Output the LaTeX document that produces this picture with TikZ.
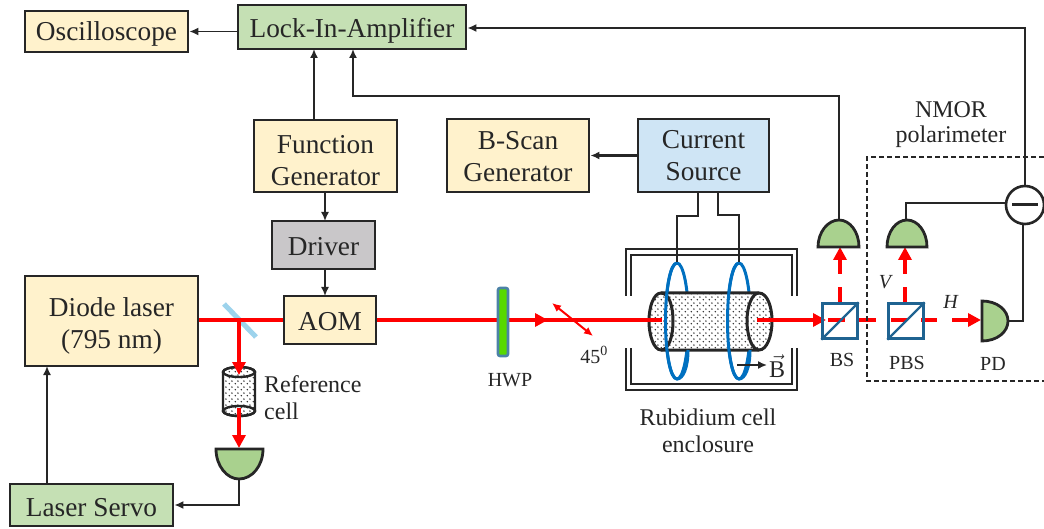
\documentclass[tikz,border=0pt]{standalone}
\usepackage{fontspec}
\setmainfont{Liberation Serif}
\usepackage{amsmath}
\usetikzlibrary{positioning}
\usetikzlibrary{arrows.meta}
\usetikzlibrary{patterns}
\definecolor{cream}{HTML}{FFF2CC}
\definecolor{palegreen}{HTML}{C5E0B4}
\definecolor{detgreen}{HTML}{A9D18E}
\definecolor{driverg}{HTML}{C9C7C9}
\definecolor{paleblue}{HTML}{CFE5F5}
\definecolor{cubeblue}{HTML}{1F6391}
\definecolor{coilblue}{HTML}{0070C0}
\definecolor{mirrorb}{HTML}{9DD3EC}
\definecolor{ink}{HTML}{262626}
\newcommand{\riser}[1]{\rule{0pt}{#1pt}}
\pgfdeclarepatternformonly{celldots}{\pgfqpoint{0pt}{0pt}}{\pgfqpoint{6pt}{6pt}}{\pgfqpoint{6pt}{6pt}}{
	\pgfpathcircle{\pgfqpoint{1.5pt}{1.5pt}}{0.9pt}
	\pgfpathcircle{\pgfqpoint{4.5pt}{4.5pt}}{0.9pt}
	\pgfusepath{fill}
}
\tikzset{
	box/.style={draw=ink,line width=2.8pt,align=center,inner sep=0pt,text=ink,font=\fontsize{27.3}{32}\selectfont},
	conn/.style={draw=ink,line width=1.6pt,-{Latex[length=9pt,width=8pt]}},
	wire/.style={draw=ink,line width=1.6pt},
	lead/.style={draw=ink,line width=2.6pt},
	beam/.style={draw=red,line width=4pt},
	beamarrow/.style={draw=red,line width=4pt,-{Triangle[length=13pt,width=13pt]}},
	det/.style={draw=ink,line width=2.8pt,fill=detgreen},
	cube/.style={draw=cubeblue,line width=2.4pt},
	coil/.style={draw=coilblue,line width=3pt},
	wall/.style={draw=ink,line width=2.2pt},
	label/.style={inner sep=0pt,text=ink,align=center,font=\fontsize{20}{27}\selectfont},
	biglabel/.style={inner sep=0pt,text=ink,align=center,font=\fontsize{24}{27}\selectfont},
}
\begin{document}
\begin{tikzpicture}[x=1pt,y=-1pt]
		\useasboundingbox (0,0) rectangle (1044,529);
		% boxes
		\node (osc) at (106.5,31.5) [box,fill=cream,minimum width=163pt,minimum height=41pt] {\riser{23}Oscilloscope};
		\node (lockin) at (352,27) [box,fill=palegreen,minimum width=228pt,minimum height=44pt] {\riser{27}Lock-In-Amplifier};
		\node (func) at (325.5,156) [box,fill=cream,minimum width=143pt,minimum height=72pt] {\riser{27}Function\\Generator};
		\node (driver) at (323.5,245) [box,fill=driverg,minimum width=103pt,minimum height=48pt] {\riser{21}Driver};
		\node (diode) at (111.5,321) [box,fill=cream,minimum width=173pt,minimum height=90pt] {\riser{29}Diode laser\\(795 nm)};
		\node (aom) at (330,320) [box,fill=cream,minimum width=92pt,minimum height=48pt] {\riser{22}AOM};
		\node (servo) at (91.5,505) [box,fill=palegreen,minimum width=163pt,minimum height=42pt] {\riser{23}Laser Servo};
		\node (bscan) at (518,155.5) [box,fill=cream,minimum width=142pt,minimum height=73pt] {\riser{21}B-Scan\\Generator};
		\node (current) at (703.5,155.5) [box,fill=paleblue,minimum width=131pt,minimum height=73pt] {Current\\Source};
		% enclosure
		\draw [wall] (626,296)--(626,249)--(797,249)--(797,296);
		\draw [wall] (631,296)--(631,255)--(792,255)--(792,296);
		\draw [wall] (626,348)--(626,390)--(797,390)--(797,348);
		\draw [wall] (631,348)--(631,384)--(792,384)--(792,348);
		% coils behind the cell
		\draw [coil] (677,321) ellipse [x radius=11.5,y radius=58];
		\draw [coil] (739,321) ellipse [x radius=11.5,y radius=58];
		% rubidium cell
		\path [fill=white] (661,293)--(759,293)--(772,321)--(759,350)--(661,350)--(649,321)--cycle;
		\draw [ink,line width=3pt,pattern=celldots,pattern color=ink]
			(661,293)--(759,293) .. controls (767,293) and (772,306) .. (772,321)
			.. controls (772,336) and (767,350) .. (759,350)--(661,350)
			.. controls (654,350) and (649,336) .. (649,321)
			.. controls (649,306) and (654,293) .. (661,293)--cycle;
		\draw [ink,line width=3pt] (661,293) .. controls (669,293) and (673,306) .. (673,321)
			.. controls (673,336) and (669,350) .. (661,350);
		\draw [ink,line width=3pt] (759,293) .. controls (752,293) and (747,306) .. (747,321)
			.. controls (747,336) and (752,350) .. (759,350);
		% front half of the coils
		\draw [coil] (677,263) .. controls (670,263) and (665.5,290) .. (665.5,321)
			.. controls (665.5,352) and (670,379) .. (677,379);
		\draw [coil] (739,263) .. controls (732,263) and (727.5,290) .. (727.5,321)
			.. controls (727.5,352) and (732,379) .. (739,379);
		\draw [coil] (677,379) .. controls (683,379) and (688,368) .. (688,350);
		\draw [coil] (739,379) .. controls (745,379) and (750,368) .. (750,350);
		% current leads
		\coordinate (leadA) at (698,192);
		\coordinate (leadB) at (718,192);
		\coordinate (coilA) at (677,262);
		\coordinate (coilB) at (739,262);
		\draw [lead] (leadA)--(698,216)--(677,216)--(coilA);
		\draw [lead] (leadB)--(718,215)--(739,215)--(coilB);
		% connectors
		\coordinate (fgup) at (314,120);
		\coordinate (fgin) at (314,49);
		\coordinate (fgdown) at (325,192);
		\coordinate (drin) at (325,221);
		\coordinate (drout) at (325,269);
		\coordinate (aomin) at (325,296);
		\draw [conn] (lockin.west |- osc.center)--(osc.east);
		\draw [conn] (fgup)--(fgin);
		\draw [conn] (fgdown)--(drin);
		\draw [conn] (drout)--(aomin);
		\draw [conn,line width=2.6pt] (current.west)--(bscan.east);
		\coordinate (servoup) at (47,484);
		\coordinate (diodein) at (47,366);
		\draw [conn] (servoup)--(diodein);
		% hwp and mirror
		\draw [mirrorb,line width=5pt] (224,304)--(256,337);
		% beam
		\coordinate (split) at (239,320);
		\coordinate (cellin) at (662,320);
		\coordinate (cellout) at (757,320);
		\coordinate (bsin) at (826,320);
		\draw [beam] (diode.east |- aom.west)--(aom.west);
		\draw [beam] (aom.east)--(cellin);
		\draw [beamarrow] (500,320)--(548,320);
		\draw [beamarrow] (cellout)--(bsin);
		\node (hwp) at (503,322) [draw=cubeblue!80,line width=2.6pt,fill=green!60!yellow!85!black,rounded corners=2pt,minimum width=10pt,minimum height=68pt,inner sep=0pt] {};
		\coordinate (polA) at (552,303);
		\coordinate (polB) at (593,336);
		\draw [red,line width=2pt,{Latex[length=9pt,width=8pt]}-{Latex[length=9pt,width=8pt]}] (polA)--(polB);
		% reference cell
		\draw [ink,line width=2.4pt,pattern=celldots,pattern color=ink]
			(223,372)--(223,411) arc [start angle=180,end angle=360,x radius=16,y radius=-5]--(255,372) arc [start angle=0,end angle=180,x radius=16,y radius=-5];
		\draw [ink,line width=2.4pt] (239,372) ellipse [x radius=16,y radius=5];
		\draw [ink,line width=2.4pt] (239,411) ellipse [x radius=16,y radius=5];
		\coordinate (refin) at (239,375);
		\coordinate (refout) at (239,408);
		\coordinate (refdet) at (239,448);
		\draw [beamarrow] (split)--(refin);
		\draw [beamarrow] (refout)--(refdet);
		% red paths around the cubes
		\draw [beam] (828,320)--(845,320);
		\draw [beam] (859,320)--(876,320);
		\draw [beam] (891,320)--(907,320);
		\draw [beam] (921,320)--(937,320);
		\coordinate (pdin) at (981,320);
		\draw [beamarrow] (952,320)--(pdin);
		\draw [beam] (840,305)--(840,287);
		\draw [beam] (905,305)--(905,287);
		\coordinate (detA) at (840,247);
		\coordinate (detB) at (905,247);
		\draw [beamarrow] (840,274)--(detA);
		\draw [beamarrow] (905,274)--(detB);
		% cubes
		\node (bs) at (840,321) [cube,minimum width=35pt,minimum height=35pt,inner sep=0pt] {};
		\node (pbs) at (906,321) [cube,minimum width=35pt,minimum height=35pt,inner sep=0pt] {};
		\draw [cube] (bs.south west)--(bs.north east);
		\draw [cube] (pbs.south west)--(pbs.north east);
		% detectors
		\draw [det] (818,247) .. controls (818,232) and (828,220) .. (839,220) .. controls (850,220) and (859,232) .. (859,247)--cycle;
		\draw [det] (887,247) .. controls (887,232) and (896,220) .. (907,220) .. controls (918,220) and (927,232) .. (927,247)--cycle;
		\draw [det] (982,301) .. controls (997,301) and (1008,310) .. (1008,321) .. controls (1008,332) and (997,341) .. (982,341)--cycle;
		\draw [det] (216,449)--(263,449) .. controls (263,466) and (252,479) .. (239,479) .. controls (227,479) and (216,466) .. (216,449)--cycle;
		% subtractor
		\node (minus) at (1025,205) [circle,draw=ink,line width=2.6pt,fill=white,minimum size=38pt,inner sep=0pt] {};
		\draw [ink,line width=3pt] (1012,205)--(1038,205);
		% signal lines
		\coordinate (detAout) at (839,220);
		\coordinate (detBout) at (906,220);
		\coordinate (pdout) at (1008,321);
		\coordinate (refdetout) at (239,479);
		\draw [wire] (detBout)--(906,203)--(minus.west |- 0,203);
		\draw [wire] (pdout)--(1023,321)--(1023,224);
		\draw [conn] (minus.north)--(1025,28)--(lockin.east |- 0,28);
		\draw [conn] (detAout)--(839,96)--(353,96)--(353,49);
		\draw [conn] (refdetout)--(239,505)--(servo.east |- 0,505);
		% polarimeter frame
		\draw [ink,line width=1.6pt,dash pattern=on 5pt off 3pt] (1044,157)--(867,157)--(867,381)--(1044,381);
		% labels
		\node (reftext) at (264,398) [biglabel,anchor=west,align=left] {Reference\\cell};
		\node (hwptext) at (510,380) [label] {HWP};
		\node (angletext) at (594,355) [label] {45\textsuperscript{0}};
		\node (rbtext) at (708,431) [biglabel] {Rubidium cell\\enclosure};
		\draw [conn] (737,365)--(767,365);
		\node (btext) at (777,366) [biglabel] {$\vec{\mathrm{B}}$};
		\node (bstext) at (842,360) [label] {BS};
		\node (pbstext) at (907,363) [label] {PBS};
		\node (pdtext) at (993,364) [label] {PD};
		\node (vtext) at (886,282) [label] {\textit{V}};
		\node (htext) at (951,302) [label] {\textit{H}};
		\node (nmortext) at (951,125) [biglabel] {NMOR\\[-2pt]polarimeter};
    \end{tikzpicture}
\end{document}
